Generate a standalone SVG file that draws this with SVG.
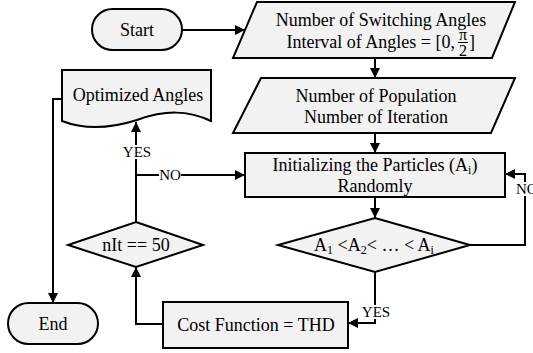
<svg xmlns="http://www.w3.org/2000/svg" width="533" height="353" viewBox="0 0 533 353">
<defs>
<marker id="ah" viewBox="0 0 10 10" refX="10" refY="5" markerWidth="10" markerHeight="10" markerUnits="userSpaceOnUse" orient="auto">
<path d="M0,0 L10,5 L0,10 Z" fill="#000"/>
</marker>
</defs>
<style>
.s{fill:#f2f2f2;stroke:#000;stroke-width:2}
text{font-family:'Liberation Serif','Times New Roman',Times,serif;fill:#000;text-anchor:middle}
.t{font-size:18px}
.f{font-size:16px}
.l{font-size:15px}
.c{fill:none;stroke:#000;stroke-width:2}
.sub{font-size:12px}
</style>
<rect width="533" height="353" fill="#fff"/>
<g id="connectors">
<path class="c" d="M182,30 H245" marker-end="url(#ah)"/>
<path class="c" d="M375,58 V78" marker-end="url(#ah)"/>
<path class="c" d="M375,133 V153" marker-end="url(#ah)"/>
<path class="c" d="M375,197 V218" marker-end="url(#ah)"/>
<path class="c" d="M470,245 H525 V174 H505" marker-end="url(#ah)"/>
<path class="c" d="M375,272 V323 H348" marker-end="url(#ah)"/>
<path class="c" d="M163,324 H136 V267" marker-end="url(#ah)"/>
<path class="c" d="M136,222 V122" marker-end="url(#ah)"/>
<path class="c" d="M136,175 H245" marker-end="url(#ah)"/>
<path class="c" d="M62,99 H53 V303" marker-end="url(#ah)"/>
<rect x="121" y="145" width="32" height="14" fill="#fff"/>
<text class="l" x="137" y="157">YES</text>
<rect x="159" y="168" width="22" height="14" fill="#fff"/>
<text class="l" x="170" y="180">NO</text>
<rect x="516" y="182" width="17" height="14" fill="#fff"/>
<text class="l" x="516" y="194" style="text-anchor:start">NO</text>
<rect x="360" y="305" width="32" height="14" fill="#fff"/>
<text class="l" x="376" y="317">YES</text>
</g>
<g id="start">
<rect class="s" x="92" y="9" width="90" height="41" rx="20.5"/>
<text class="t" x="137" y="36">Start</text>
</g>
<g id="input1">
<path class="s" d="M257,2 H515 L492,58 H233 Z"/>
<text class="t" x="381" y="26">Number of Switching Angles</text>
<text class="t" x="455" y="48" style="text-anchor:end">Interval of Angles = [0,</text>
<text class="f" x="463" y="40">π</text>
<line x1="458" y1="42.5" x2="468" y2="42.5" stroke="#000" stroke-width="1"/>
<text class="f" x="463" y="56">2</text>
<text class="t" x="469" y="48" style="text-anchor:start">]</text>
</g>
<g id="input2">
<path class="s" d="M261,78 H515 L491,133 H233 Z"/>
<text class="t" x="376" y="102">Number of Population</text>
<text class="t" x="376" y="123">Number of Iteration</text>
</g>
<g id="init">
<rect class="s" x="245" y="153" width="260" height="44"/>
<text class="t" x="375" y="171">Initializing the Particles (A<tspan class="sub" dy="3">i</tspan><tspan dy="-3">)</tspan></text>
<text class="t" x="375" y="192">Randomly</text>
</g>
<g id="check">
<path class="s" d="M375,218 L470,245 L375,272 L278,245 Z"/>
<text class="t" x="374" y="251">A<tspan class="sub" dy="3">1</tspan><tspan dy="-3"> &lt;A</tspan><tspan class="sub" dy="3">2</tspan><tspan dy="-3">&lt; … &lt; A</tspan><tspan class="sub" dy="3">i</tspan></text>
</g>
<g id="cost">
<rect class="s" x="163" y="302" width="185" height="46"/>
<text class="t" x="256" y="331">Cost Function = THD</text>
</g>
<g id="iter">
<path class="s" d="M136,222 L203,245 L136,267 L68,245 Z"/>
<text class="t" x="136" y="251">nIt == 50</text>
</g>
<g id="output">
<path class="s" d="M62,70 H211 V121 C188,110 165,110 137,120 C112,128 85,130 62,121 Z"/>
<text class="t" x="138" y="101">Optimized Angles</text>
</g>
<g id="end">
<rect class="s" x="8" y="303" width="90" height="41" rx="20.5"/>
<text class="t" x="53" y="330">End</text>
</g>
</svg>
